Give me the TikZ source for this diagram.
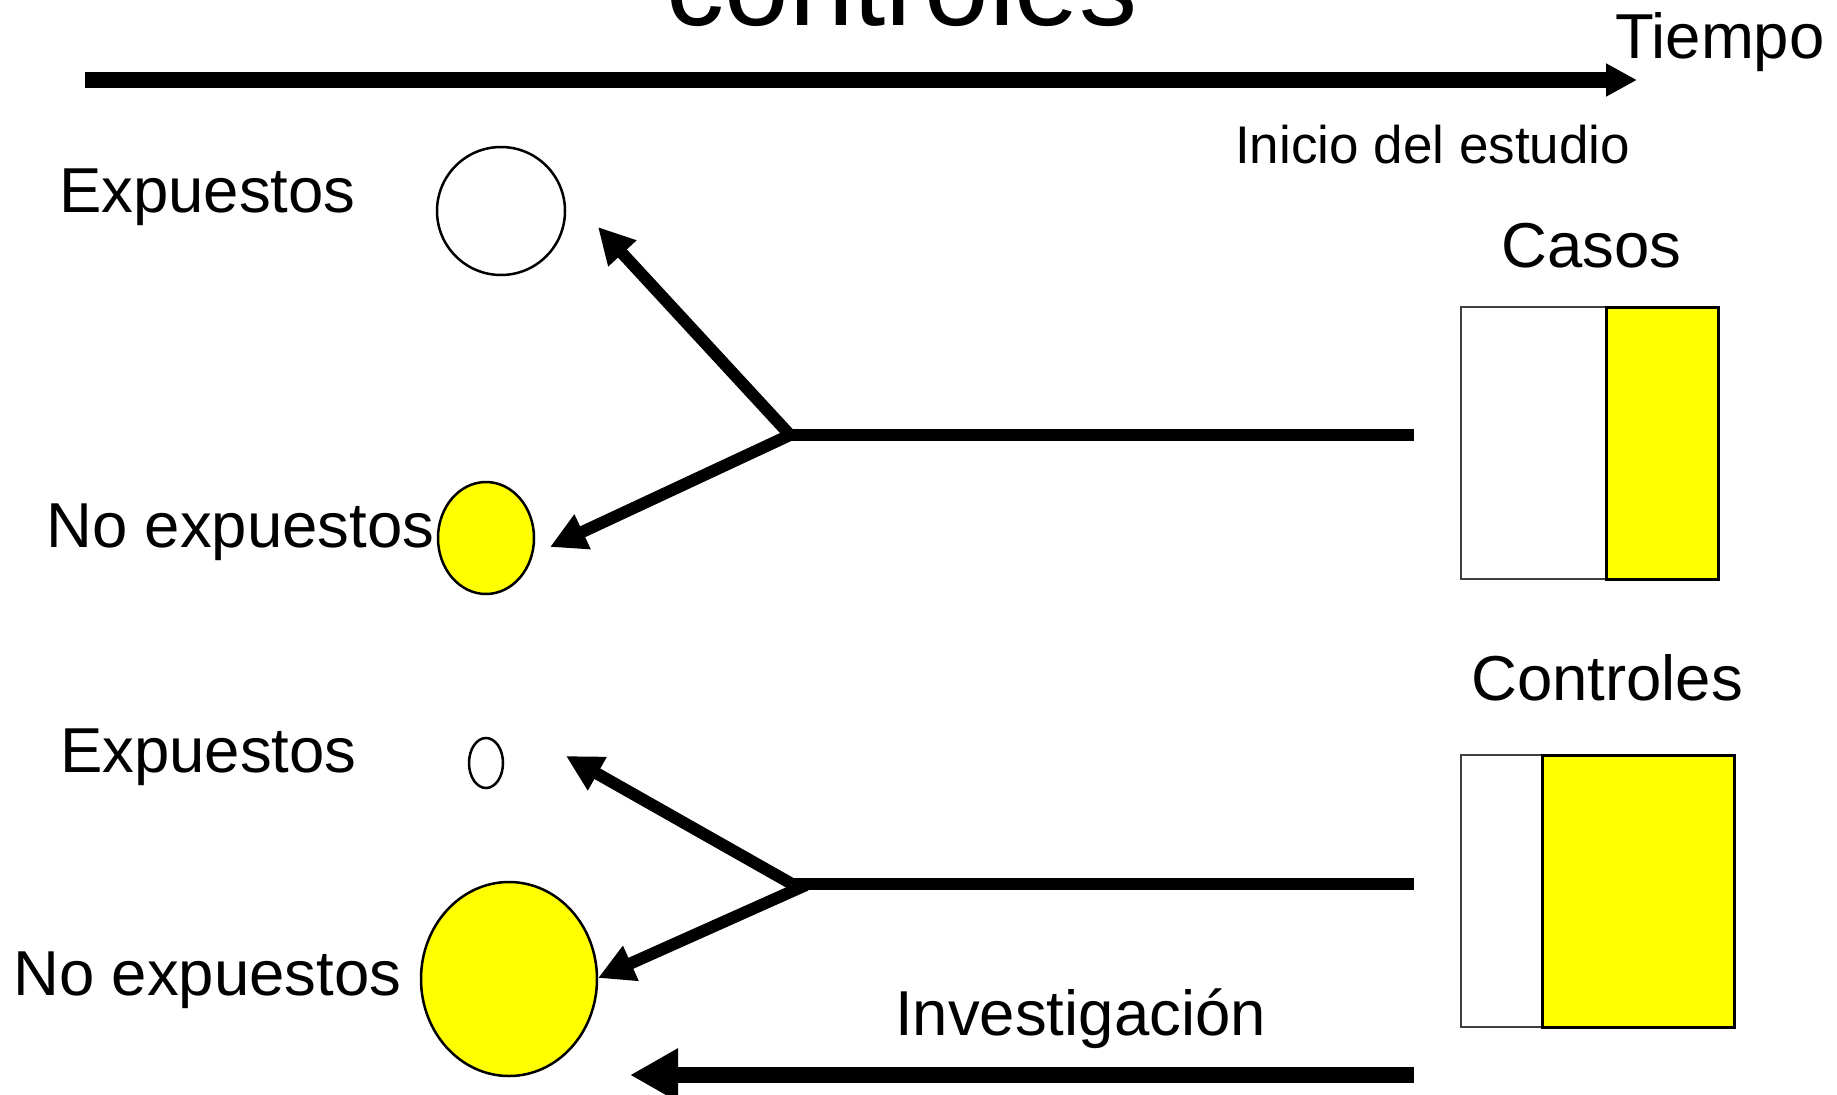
\documentclass[tikz,border=0pt]{standalone}
\usepackage{fontspec}
\setmainfont{Liberation Sans}
\usetikzlibrary{arrows.meta,shapes.geometric}
\definecolor{yel}{HTML}{FFFF00}
\tikzset{
  lbl/.style={inner sep=0pt, anchor=base west, font=\fontsize{63.5}{76}\selectfont},
  ring/.style={ellipse, draw=black, line width=2.5pt, inner sep=0pt},
  branch/.style={line width=12pt, line cap=butt},
  brarrow/.style={line width=12pt, -{Triangle[length=36pt,width=36pt]}},
  bigarrow/.style={line width=16pt, -{Triangle[length=31pt,width=31pt]}},
  whitebar/.style={draw=black!75, line width=2.5pt, fill=white},
  yelbar/.style={draw=black, line width=3pt, fill=yel}
}
\begin{document}
\begin{tikzpicture}[x=1pt,y=-1pt]
\useasboundingbox (0,0) rectangle (1837,1095);
\fill[white] (0,0) rectangle (1837,1095);

% title (cut at the top)
\node[inner sep=0pt, anchor=base, font=\fontsize{116}{136}\selectfont] (title) at (902,25) {controles};

% time axis
\coordinate (t0) at (85,80);
\coordinate (t1) at (1637,80);
\draw[bigarrow] (t0) -- (t1);
\node[lbl] (tiempo) at (1615,58) {Tiempo};
\node[lbl, font=\fontsize{53}{64}\selectfont] (inicio) at (1235,163) {Inicio del estudio};

% upper group (casos)
\node[lbl] (exp1) at (59,212) {Expuestos};
\node[lbl] (noexp1) at (46,547) {No expuestos};
\node[ring, fill=white, minimum width=128pt, minimum height=128pt] (c1) at (501,211) {};
\node[ring, fill=yel, minimum width=96pt, minimum height=112pt] (c2) at (486,538) {};
\coordinate (b1) at (790,435);
\coordinate (e1) at (1414,435);
\coordinate (a1) at (598,227);
\coordinate (a2) at (550,547);
\draw[branch] (b1) -- (e1);
\draw[brarrow] (b1) -- (a1);
\draw[brarrow] (b1) -- (a2);

\node[lbl] (casos) at (1501,267) {Casos};
\draw[whitebar] (1461,307) rectangle (1671,579);
\draw[yelbar] (1606,307) rectangle (1718,579);

% lower group (controles)
\node[lbl] (exp2) at (60,772) {Expuestos};
\node[lbl] (noexp2) at (13,995) {No expuestos};
\node[ring, fill=white, minimum width=34pt, minimum height=50pt] (c3) at (486,763) {};
\node[ring, fill=yel, minimum width=176pt, minimum height=194pt] (c4) at (509,979) {};
\coordinate (b2) at (792,884);
\coordinate (b3) at (806,885);
\coordinate (e2) at (1414,884);
\coordinate (a3) at (566,756);
\coordinate (a4) at (598,978);
\draw[branch] (b2) -- (e2);
\draw[brarrow] (b2) -- (a3);
\draw[brarrow] (b3) -- (a4);

\node[lbl] (controles) at (1471,700) {Controles};
\draw[whitebar] (1461,755) rectangle (1592,1027);
\draw[yelbar] (1542,755) rectangle (1734,1027);

% investigation arrow
\node[lbl] (inv) at (895,1035) {Investigación};
\coordinate (i0) at (1414,1075);
\coordinate (i1) at (630,1075);
\draw[line width=16pt, -{Triangle[length=48pt,width=50pt]}] (i0) -- (i1);
\end{tikzpicture}
\end{document}
